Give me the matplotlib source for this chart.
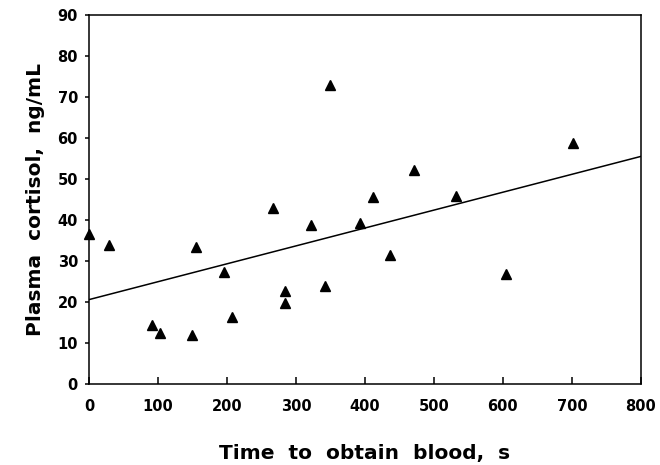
import matplotlib
matplotlib.use('Agg')
import matplotlib.pyplot as plt

# time to obtain blood (s) and plasma cortisol (ng/mL)
time_s = [0, 29, 91, 103, 149, 155, 196, 207, 267, 284, 284,
          322, 342, 349, 393, 411, 436, 471, 532, 604, 701]
cortisol = [36.6, 34.0, 14.4, 12.4, 12.0, 33.4, 27.3, 16.3, 42.9, 22.7, 19.8,
            38.8, 23.9, 72.9, 39.2, 45.6, 31.5, 52.2, 45.9, 26.8, 58.8]

# regression line endpoints
fit_x = [0, 800]
fit_y = [20.6, 55.5]

xticks = [0, 100, 200, 300, 400, 500, 600, 700, 800]
yticks = [0, 10, 20, 30, 40, 50, 60, 70, 80, 90]

plt.rcParams['font.family'] = ['DejaVu Sans']
plt.rcParams['font.weight'] = 'bold'

fig = plt.figure(figsize=(6.6, 4.65), dpi=100)
ax = fig.add_axes([0.135, 0.174, 0.836, 0.794])

ax.plot(fit_x, fit_y, color='black', linewidth=1.1)
ax.plot(time_s, cortisol, linestyle='none', marker='^', color='black',
        markersize=6.5, clip_on=False)

ax.set_xlim(0, 800)
ax.set_ylim(0, 90)
ax.set_xticks(xticks)
ax.set_yticks(yticks)
ax.tick_params(axis='x', direction='in', length=5, width=1.1, pad=11,
               labelsize=10.5)
ax.tick_params(axis='y', direction='out', length=3, width=1.1, pad=5,
               labelsize=10.5)
for lab in ax.get_xticklabels() + ax.get_yticklabels():
    lab.set_fontweight('bold')

for s in ax.spines.values():
    s.set_linewidth(1.1)

ax.set_xlabel('Time  to  obtain  blood,  s', fontsize=14.5, fontweight='bold',
              labelpad=21)
ax.set_ylabel('Plasma  cortisol,  ng/mL', fontsize=14.5, fontweight='bold',
              labelpad=9)

fig.savefig('out.png', dpi=100, facecolor='white')
